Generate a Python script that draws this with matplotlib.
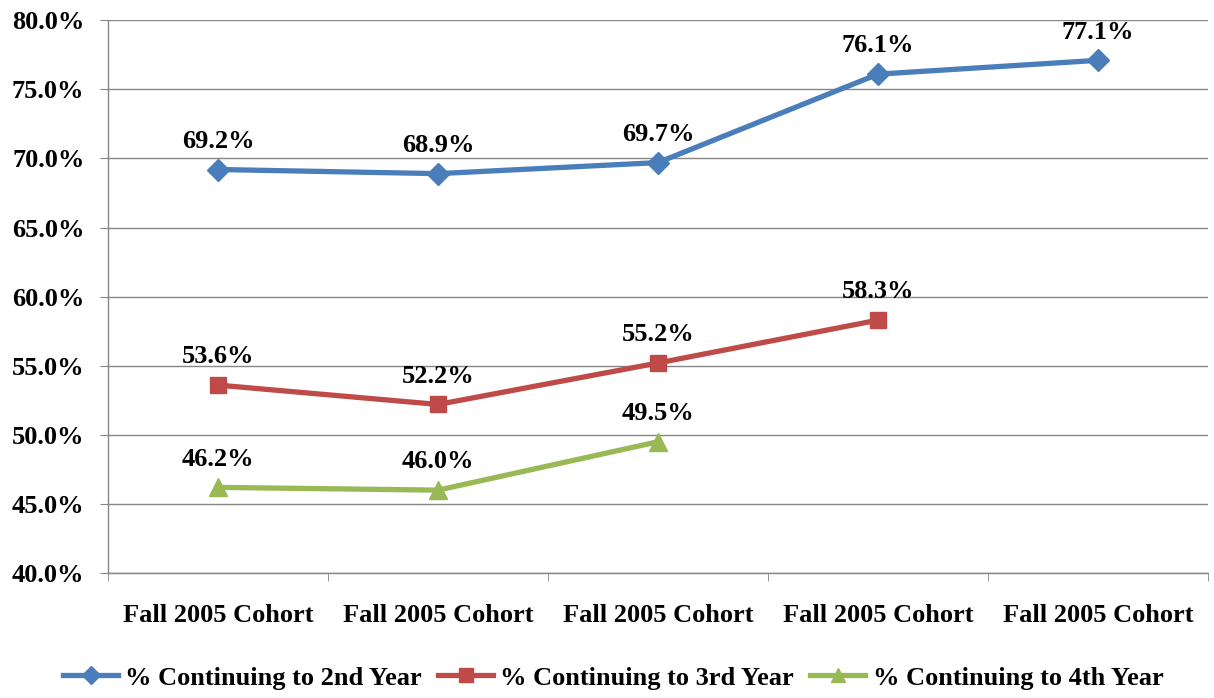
import matplotlib
matplotlib.use("Agg")
import matplotlib.pyplot as plt
import numpy as np

categories = ["Fall 2005 Cohort"] * 5
series_names = ["% Continuing to 2nd Year", "% Continuing to 3rd Year", "% Continuing to 4th Year"]
year2 = [69.2, 68.9, 69.7, 76.1, 77.1]
year3 = [53.6, 52.2, 55.2, 58.3]
year4 = [46.2, 46.0, 49.5]
colors = ["#4A7EBB", "#BE4B48", "#98B954"]
markers = ["D", "s", "^"]
msizes = [11, 12, 13]

plt.rcParams['font.family'] = ['Liberation Serif', 'DejaVu Serif']
plt.rcParams['font.weight'] = 'bold'
FS = 19

fig = plt.figure(figsize=(12.14, 6.98), dpi=100)
ax = fig.add_axes([0.089, 0.179, 0.906, 0.792])

x = np.arange(len(categories))
for vals, name, c, m, ms in zip([year2, year3, year4], series_names, colors, markers, msizes):
    xs = x[:len(vals)]
    ax.plot(xs, vals, color=c, lw=3.8, marker=m, markersize=ms,
            markeredgecolor=c, label=name)
    for xi, v in zip(xs, vals):
        ax.annotate(f"{v:.1f}%", (xi, v), xytext=(0, 12), textcoords="offset points",
                    ha="center", va="bottom", fontsize=FS, fontweight="bold")

ax.set_xlim(-0.5, len(categories) - 0.5)
ax.set_ylim(40, 80)
ax.set_yticks(np.arange(40, 80.1, 5))
ax.set_yticklabels([f"{v:.1f}%" for v in np.arange(40, 80.1, 5)], fontsize=FS, fontweight="bold")
ax.set_xticks(x)
ax.set_xticklabels(categories, fontsize=FS, fontweight="bold")
ax.set_xticks(np.arange(-0.5, len(categories)), minor=True)
ax.tick_params(axis="x", which="major", length=0, pad=22)
ax.tick_params(axis="x", which="minor", length=6, color="#868686", direction="out")
ax.tick_params(axis="y", length=6, color="#868686", direction="out", pad=11)
ax.grid(axis="y", color="#868686", lw=1)
ax.set_axisbelow(True)
for s in ["top", "right"]:
    ax.spines[s].set_visible(False)
for s in ["left", "bottom"]:
    ax.spines[s].set_color("#868686")
    ax.spines[s].set_linewidth(1)

leg = fig.legend(loc="lower center", bbox_to_anchor=(0.505, -0.022), ncol=3, frameon=False,
                 prop={"size": FS, "weight": "bold"}, handlelength=2.1, columnspacing=0.6,
                 handletextpad=0.27, markerscale=0.8)

fig.savefig("out.png", dpi=100)
